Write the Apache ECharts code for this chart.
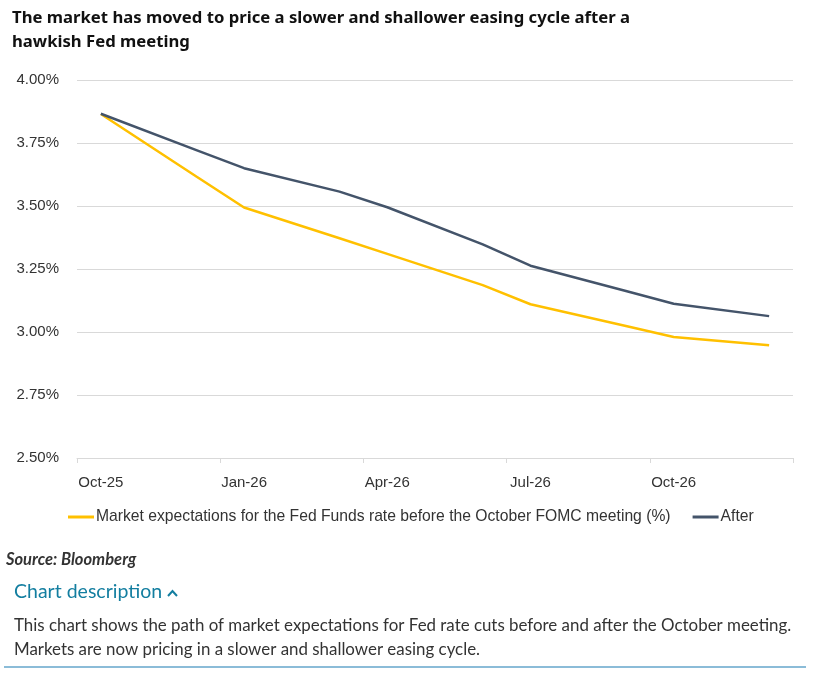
<!DOCTYPE html>
<html>
<head>
<meta charset="utf-8">
<script src="https://cdn.jsdelivr.net/npm/echarts@6/dist/echarts.min.js"></script>
<style>
  html, body { margin: 0; padding: 0; background: #ffffff; }
  #chart { width: 818px; height: 682px; }
</style>
</head>
<body>
<div id="chart"></div>
<script>
// Monthly slots, Oct-25 .. Dec-26 (values only at FOMC meeting months)
const months = ["Oct-25","Nov-25","Dec-25","Jan-26","Feb-26","Mar-26","Apr-26","May-26","Jun-26","Jul-26","Aug-26","Sep-26","Oct-26","Nov-26","Dec-26"];
const beforeValues = [3.865, null, 3.617, 3.494, null, 3.372, 3.31, null, 3.186, 3.11, null, 3.024, 2.98, null, 2.947];
const afterValues  = [3.866, null, 3.722, 3.65, null, 3.557, 3.495, null, 3.348, 3.263, null, 3.163, 3.112, null, 3.063];
const yTicks = { min: 2.5, max: 4.0, step: 0.25 };
const seriesNames = ["Market expectations for the Fed Funds rate before the October FOMC meeting (%)", "After"];

const titleText = "The market has moved to price a slower and shallower easing cycle after a\nhawkish Fed meeting";
const sourceText = "Source: Bloomberg";
const descHeading = "Chart description";
const descLines = "This chart shows the path of market expectations for Fed rate cuts before and after the October meeting.\nMarkets are now pricing in a slower and shallower easing cycle.";

const chart = echarts.init(document.getElementById('chart'), null, { renderer: 'canvas' });
const baseFont = "'Liberation Sans', Arial, sans-serif";
const option = {
  animation: false,
  backgroundColor: '#ffffff',
  title: {
    text: titleText,
    left: 12, top: 6, padding: 0,
    textStyle: { fontFamily: "'Noto Sans', Lato, sans-serif", fontWeight: 'bold', fontSize: 16.7, lineHeight: 24, color: '#111111' }
  },
  legend: {
    left: 63, top: 504, padding: 5,
    icon: 'rect', itemWidth: 26, itemHeight: 3, itemGap: 22,
    textStyle: { fontFamily: baseFont, fontSize: 15.7, color: '#333333', padding: [0, 0, 0, -3] },
    data: seriesNames
  },
  grid: { left: 77, right: 25, top: 80, bottom: 224, containLabel: false },
  xAxis: {
    type: 'category',
    data: months,
    boundaryGap: true,
    axisLine: { show: true, lineStyle: { color: '#d9d9d9', width: 1 } },
    axisTick: { show: true, interval: 2, length: 5, lineStyle: { color: '#d9d9d9' } },
    axisLabel: { interval: 2, margin: 17, fontFamily: baseFont, fontSize: 15, color: '#333333' },
    splitLine: { show: false }
  },
  yAxis: {
    type: 'value',
    min: yTicks.min, max: yTicks.max, interval: yTicks.step,
    axisLine: { show: false },
    axisTick: { show: false },
    axisLabel: { margin: 18, fontFamily: baseFont, fontSize: 15, color: '#333333', formatter: v => v.toFixed(2) + '%' },
    splitLine: { show: true, lineStyle: { color: '#d9d9d9', width: 1 } }
  },
  series: [
    { name: seriesNames[0], type: 'line', data: beforeValues, connectNulls: true, showSymbol: false, symbol: 'none',
      color: '#ffc000', lineStyle: { color: '#ffc000', width: 2.5 } },
    { name: seriesNames[1], type: 'line', data: afterValues, connectNulls: true, showSymbol: false, symbol: 'none',
      color: '#44546a', lineStyle: { color: '#44546a', width: 2.5 } }
  ],
  graphic: [
    { type: 'text', left: 6, top: 551, style: { text: sourceText, font: "italic bold 16.5px Lato, 'Noto Sans', sans-serif", fill: '#333333' } },
    { type: 'text', left: 14, top: 582, style: { text: descHeading, font: "19.5px Lato, 'Noto Sans', sans-serif", fill: '#137ea0' } },
    { type: 'polyline', shape: { points: [[168, 596], [172.5, 591], [177, 596]] }, style: { stroke: '#137ea0', lineWidth: 2, fill: null } },
    { type: 'text', left: 14, top: 614, style: { text: descLines, font: "16.9px Lato, 'Noto Sans', sans-serif", fill: '#333333', lineHeight: 24 } },
    { type: 'rect', shape: { x: 4, y: 666, width: 802, height: 2 }, style: { fill: '#8bbcd8' } }
  ]
};
chart.setOption(option);
</script>
</body>
</html>
